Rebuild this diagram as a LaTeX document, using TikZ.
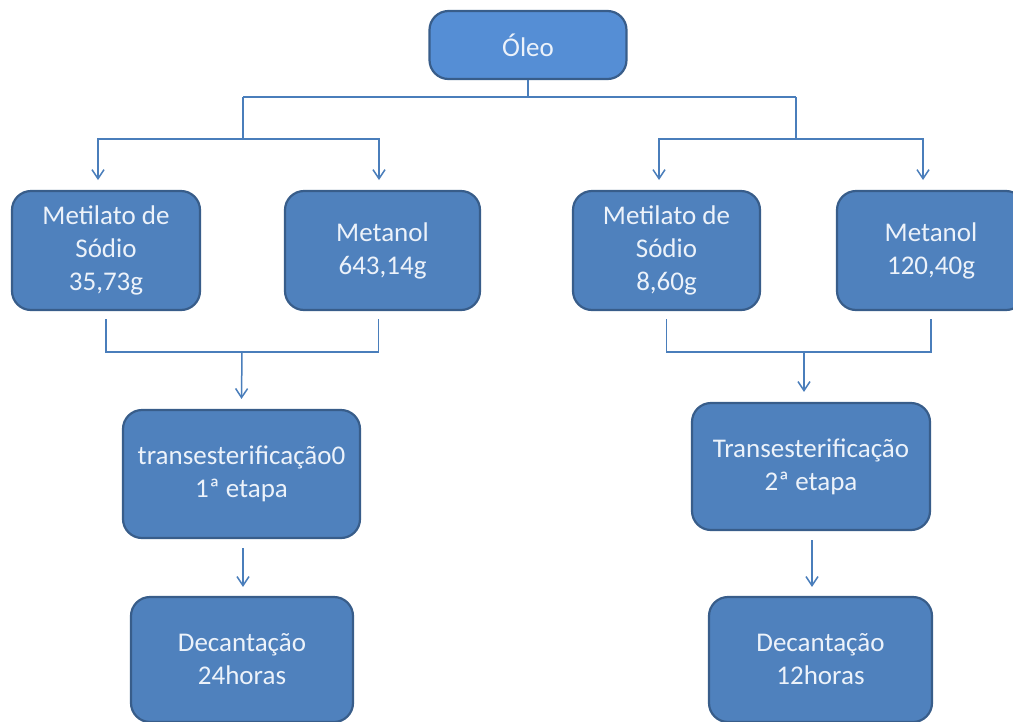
\documentclass[tikz,border=0pt]{standalone}
\usepackage{fontspec}
\newfontfamily\boxfont{Carlito}
\usetikzlibrary{arrows.meta}
\definecolor{boxfill}{RGB}{79,129,189}
\definecolor{topfill}{RGB}{85,142,213}
\definecolor{boxline}{RGB}{56,93,138}
\definecolor{linkcol}{RGB}{74,126,187}
\definecolor{boxtext}{RGB}{236,242,250}
\tikzset{
  stage/.style={draw=boxline, line width=2.2pt, fill=boxfill, rounded corners=19pt,
    text=boxtext, align=center, inner sep=0pt,
    font=\boxfont\fontsize{27}{33}\selectfont},
  link/.style={draw=linkcol, line width=1.5pt},
  arr/.style={link, -{Straight Barb[length=9pt,width=12pt,line width=1.5pt]}}
}
\begin{document}
\begin{tikzpicture}[x=1pt, y=-1pt]
\useasboundingbox (0,0) rectangle (1013,721);
\clip (0,0) rectangle (1013,721);

% stages
\node[stage, fill=topfill, minimum width=197pt, minimum height=68pt] (oleo) at (528,45) {Óleo};
\node[stage, minimum width=188pt, minimum height=119pt] (metL) at (106,250.5) {Metilato de\\Sódio\\35,73g};
\node[stage, minimum width=195pt, minimum height=119pt] (metnL) at (382.5,250.5) {Metanol\\643,14g};
\node[stage, minimum width=187pt, minimum height=119pt] (metR) at (666.5,250.5) {Metilato de\\Sódio\\8,60g};
\node[stage, minimum width=188pt, minimum height=119pt] (metnR) at (931,250.5) {Metanol\\120,40g};
\node[stage, minimum width=237pt, minimum height=128pt] (transL) at (241.5,474) {transesterificação0\\1ª etapa};
\node[stage, minimum width=238pt, minimum height=127pt] (transR) at (811,466.5) {Transesterificação\\2ª etapa};
\node[stage, minimum width=222pt, minimum height=125pt] (decL) at (242,659.5) {Decantação\\24horas};
\node[stage, minimum width=223pt, minimum height=125pt] (decR) at (820.5,659.5) {Decantação\\12horas};

% branching points
\coordinate (busL) at (243,97);
\coordinate (busR) at (796,97);
\coordinate (forkL) at (243,139);
\coordinate (forkR) at (796,139);
\coordinate (tip1) at (98,180);
\coordinate (tip2) at (379,180);
\coordinate (tip3) at (659,180);
\coordinate (tip4) at (923,180);
\coordinate (joinL) at (242,352);
\coordinate (joinR) at (804,352);

% oil splits into the two charges
\draw[link] (oleo.south) -- (oleo.south |- busL);
\draw[link] (busL) -- (busR);
\draw[link] (busL) -- (forkL);
\draw[link] (busR) -- (forkR);
\draw[arr] (forkL) -| (tip1);
\draw[arr] (forkL) -| (tip2);
\draw[arr] (forkR) -| (tip3);
\draw[arr] (forkR) -| (tip4);

% reagents combine into each stage
\draw[link] ([yshift=-8pt]metL.south) |- (joinL);
\draw[link] ([xshift=-4pt,yshift=-8pt]metnL.south) |- (joinL);
\draw[arr] (joinL) -- ([yshift=10pt]transL.north);
\draw[link] ([yshift=-8pt]metR.south) |- (joinR);
\draw[link] ([yshift=-8pt]metnR.south) |- (joinR);
\draw[arr] (joinR) -- ([xshift=-7pt,yshift=10pt]transR.north);

% settling after each stage
\draw[arr] ([xshift=1.5pt,yshift=-9pt]transL.south) -- ([xshift=1pt,yshift=9pt]decL.north);
\draw[arr] ([xshift=1pt,yshift=-9pt]transR.south) -- ([xshift=-8.5pt,yshift=9pt]decR.north);
\end{tikzpicture}
\end{document}
